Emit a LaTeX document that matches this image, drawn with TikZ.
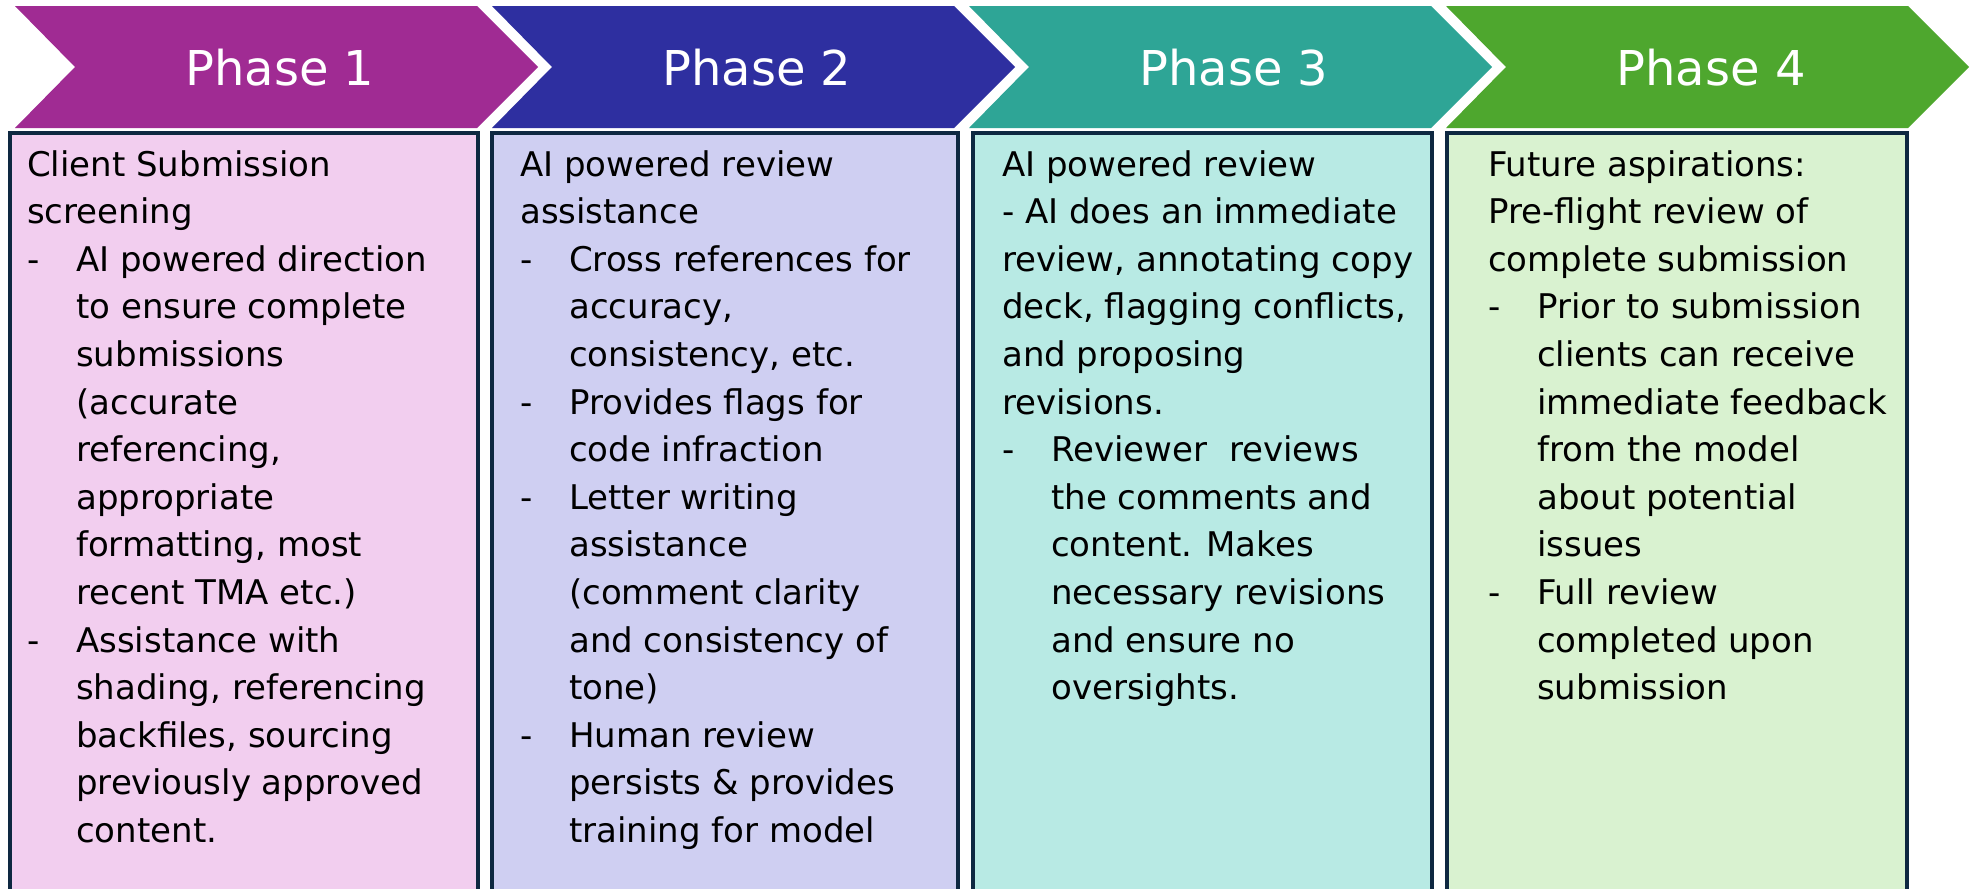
\documentclass[tikz,border=0pt]{standalone}
\usepackage{fontspec}
\setmainfont{DejaVu Sans}
\definecolor{chA}{HTML}{A02B93}
\definecolor{chB}{HTML}{2E2FA0}
\definecolor{chC}{HTML}{2EA596}
\definecolor{chD}{HTML}{4EA72E}
\definecolor{bxA}{HTML}{F2CEEF}
\definecolor{bxB}{HTML}{CFCFF2}
\definecolor{bxC}{HTML}{B8EAE4}
\definecolor{bxD}{HTML}{D9F2D0}
\definecolor{edgecol}{HTML}{0E2841}
\newcommand{\bul}{\makebox[49pt][l]{-}}
\newcommand{\ind}{\hspace*{49pt}}
\newcommand{\bodyfont}{\fontsize{34}{47.6}\selectfont}
\begin{document}
\begin{tikzpicture}[x=1pt,y=-1pt,
  boxstyle/.style={draw=edgecol, line width=3.6pt},
  title/.style={text=white, font=\fontsize{48}{56}\selectfont, anchor=base, inner sep=0pt},
  body/.style={anchor=base west, inner sep=0pt, text=black}]
\clip (0,0) rectangle (1979,889);
\fill[white] (0,0) rectangle (1979,889);
% chevrons
\fill[chA] (15,6) -- (477,6) -- (538,67) -- (477,128) -- (15,128) -- (75,67) -- cycle;
\fill[chB] (492,6) -- (954,6) -- (1015,67) -- (954,128) -- (492,128) -- (552,67) -- cycle;
\fill[chC] (969,6) -- (1431,6) -- (1492,67) -- (1431,128) -- (969,128) -- (1029,67) -- cycle;
\fill[chD] (1446,6) -- (1908,6) -- (1969,67) -- (1908,128) -- (1446,128) -- (1506,67) -- cycle;
\node[title] (t1) at (280,85) {Phase 1};
\node[title] (t2) at (757,85) {Phase 2};
\node[title] (t3) at (1234,85) {Phase 3};
\node[title] (t4) at (1711,85) {Phase 4};
% boxes
\draw[boxstyle, fill=bxA] (10,133) rectangle (478,910);
\draw[boxstyle, fill=bxB] (492,133) rectangle (958,910);
\draw[boxstyle, fill=bxC] (973,133) rectangle (1432,910);
\draw[boxstyle, fill=bxD] (1447,133) rectangle (1907,910);
% texts
\node[body] (c1) at (27,176) {\begin{minipage}[t]{450pt}\bodyfont
Client Submission\\
screening\\
\bul AI powered direction\\
\ind to ensure complete\\
\ind submissions\\
\ind (accurate\\
\ind referencing,\\
\ind appropriate\\
\ind formatting, most\\
\ind recent TMA etc.)\\
\bul Assistance with\\
\ind shading, referencing\\
\ind backfiles, sourcing\\
\ind previously approved\\
\ind content.
\end{minipage}};
\node[body] (c2) at (520,176) {\begin{minipage}[t]{430pt}\bodyfont
AI powered review\\
assistance\\
\bul Cross references for\\
\ind accuracy,\\
\ind consistency, etc.\\
\bul Provides flags for\\
\ind code infraction\\
\bul Letter writing\\
\ind assistance\\
\ind (comment clarity\\
\ind and consistency of\\
\ind tone)\\
\bul Human review\\
\ind persists \& provides\\
\ind training for model
\end{minipage}};
\node[body] (c3) at (1002,176) {\begin{minipage}[t]{430pt}\bodyfont
AI powered review\\
- AI does an immediate\\
review, annotating copy\\
deck, flagging conflicts,\\
and proposing\\
revisions.\\
\bul Reviewer\ \ reviews\\
\ind the comments and\\
\ind content. Makes\\
\ind necessary revisions\\
\ind and ensure no\\
\ind oversights.
\end{minipage}};
\node[body] (c4) at (1488,176) {\begin{minipage}[t]{430pt}\bodyfont
Future aspirations:\\
Pre-flight review of\\
complete submission\\
\bul Prior to submission\\
\ind clients can receive\\
\ind immediate feedback\\
\ind from the model\\
\ind about potential\\
\ind issues\\
\bul Full review\\
\ind completed upon\\
\ind submission
\end{minipage}};
\end{tikzpicture}
\end{document}
